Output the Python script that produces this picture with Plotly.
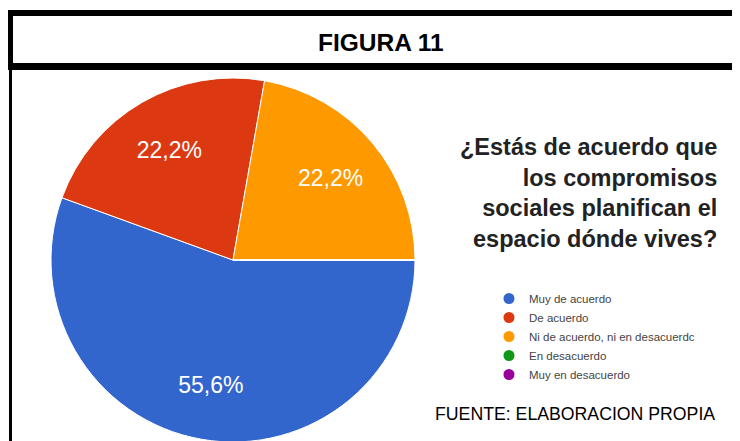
import plotly.graph_objects as go

# ---- data ----
labels = ["Muy de acuerdo", "De acuerdo", "Ni de acuerdo, ni en desacuerdo",
          "En desacuerdo", "Muy en desacuerdo"]
legend_labels = ["Muy de acuerdo", "De acuerdo", "Ni de acuerdo, ni en desacuerdc",
                 "En desacuerdo", "Muy en desacuerdo"]
values = [5, 2, 2, 0, 0]
colors = ["#3366CC", "#DC3912", "#FF9900", "#109618", "#990099"]
figure_title = "FIGURA 11"
question = "¿Estás de acuerdo que<br>los compromisos<br>sociales planifican el<br>espacio dónde vives?"
source = "FUENTE: ELABORACION PROPIA"

W, H = 740, 441
OFF = 8  # page body margin
def px(x): return (x - OFF) / W
def py(y): return 1 - (y - OFF) / H

pie_domain = dict(x=[px(38), px(428)], y=[py(442), py(78)])

fig = go.Figure()
# main pie (no text)
fig.add_trace(go.Pie(
    labels=labels, values=values, sort=False, direction="clockwise", rotation=90,
    marker=dict(colors=colors, line=dict(color="white", width=1)),
    textinfo="none", domain=pie_domain,
    showlegend=False, hoverinfo="label+percent",
))
# transparent ring carrying the percentage labels at ~0.7 radius
fig.add_trace(go.Pie(
    labels=labels, values=values, sort=False, direction="clockwise", rotation=90,
    hole=0.4,
    marker=dict(colors=["rgba(0,0,0,0)"] * len(values), line=dict(width=0)),
    texttemplate="%{percent:.1%}", textposition="inside",
    insidetextorientation="horizontal",
    insidetextfont=dict(color="white", size=23, family="Liberation Sans, Arial"),
    domain=pie_domain, showlegend=False, hoverinfo="skip",
))

for lab, col in zip(legend_labels, colors):
    fig.add_trace(go.Scatter(
        x=[None], y=[None], mode="markers", name=lab,
        marker=dict(color=col, size=11, symbol="circle"),
        showlegend=True,
    ))

shapes = [
    dict(type="rect", x0=px(7), x1=px(760), y0=py(10), y1=py(16)),
    dict(type="rect", x0=px(7), x1=px(13), y0=py(10), y1=py(70)),
    dict(type="rect", x0=px(7), x1=px(760), y0=py(63), y1=py(70)),
    dict(type="rect", x0=px(9), x1=px(12), y0=py(70), y1=py(460)),
]
for s in shapes:
    s.update(xref="paper", yref="paper", fillcolor="black", line=dict(width=0), layer="above")

fig.update_layout(
    width=W, height=H, margin=dict(l=0, r=0, t=0, b=0),
    paper_bgcolor="white", plot_bgcolor="white",
    separators=",.",
    shapes=shapes,
    xaxis=dict(visible=False), yaxis=dict(visible=False),
    legend=dict(x=px(489), y=py(284), xanchor="left", yanchor="top",
                font=dict(size=11.5, color="#444444", family="Liberation Sans, Arial"),
                bgcolor="rgba(0,0,0,0)", itemclick=False),
    annotations=[
        dict(text="<b>" + figure_title + "</b>", x=px(381), y=py(43), xref="paper", yref="paper",
             xanchor="center", yanchor="middle", showarrow=False,
             font=dict(size=24.5, color="black", family="Liberation Sans, Arial")),
        dict(text="<b>" + question + "</b>", x=px(719), y=py(132), xref="paper", yref="paper",
             xanchor="right", yanchor="top", align="right", showarrow=False,
             font=dict(size=23.5, color="#222222", family="Liberation Sans, Arial")),
        dict(text=source, x=px(717), y=py(414), xref="paper", yref="paper",
             xanchor="right", yanchor="middle", showarrow=False,
             font=dict(size=17.7, color="black", family="Liberation Sans, Arial")),
    ],
)

fig.write_html("out.html")
